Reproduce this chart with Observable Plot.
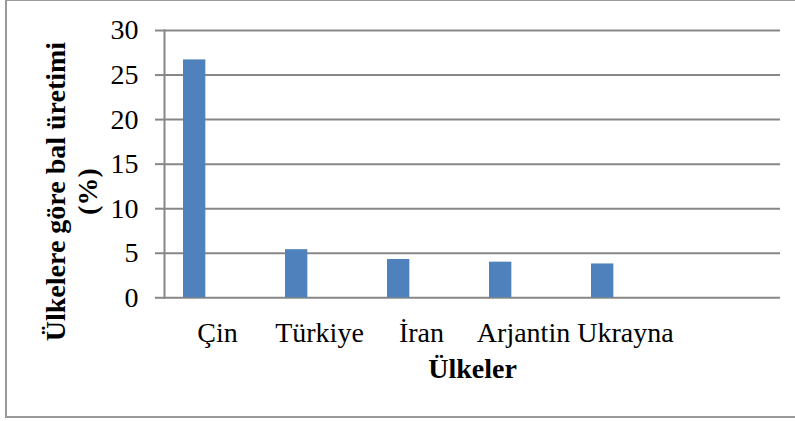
<!DOCTYPE html>
<html><head><meta charset="utf-8">
<script src="https://cdn.jsdelivr.net/npm/d3@7"></script>
<script src="https://cdn.jsdelivr.net/npm/@observablehq/plot@0.6"></script>
<style>
html,body{margin:0;padding:0;background:#fff;}
#wrap{position:relative;width:795px;height:421px;overflow:hidden;}
#border{position:absolute;left:5px;top:-1px;width:810px;height:419px;border:2px solid #9a9a9a;box-sizing:border-box;}
#chart{position:absolute;left:0;top:0;}
</style></head><body>
<div id="wrap"><div id="border"></div><div id="chart"></div></div>
<script>
const countries = ["Çin", "Türkiye", "İran", "Arjantin", "Ukrayna"];
const shares = [26.7, 5.4, 4.3, 4.0, 3.8];
const yTicks = [0, 5, 10, 15, 20, 25, 30];
const xTitle = "Ülkeler";
const yTitle = "Ülkelere göre bal üretimi\n(%)";

const data = countries.map((c, i) => ({country: c, value: shares[i]}));
const domain = [...countries, " "];
const grey = "#878787";

const plot = Plot.plot({
  width: 795, height: 421,
  marginLeft: 164, marginRight: 15, marginTop: 30, marginBottom: 123.7,
  style: {fontFamily: "'Liberation Serif', serif", fontSize: "28px", color: "#000", background: "transparent"},
  x: {domain, padding: 0, label: null},
  y: {domain: [0, 30], label: null},
  marks: [
    Plot.gridY(yTicks, {stroke: grey, strokeOpacity: 1, strokeWidth: 2}),
    Plot.barY(data, {x: "country", y: "value", fill: "#4F81BD", insetLeft: 17, insetRight: 62.67}),
    Plot.axisY(yTicks, {tickSize: 9, tickPadding: 17, stroke: grey, strokeWidth: 2, strokeOpacity: 1, fontSize: 28, fill: "#000", label: null, tickFormat: d => d}),
    Plot.axisX({tickSize: 0, tickPadding: 24.5, fontSize: 28, fill: "#000", label: null}),
    Plot.frame({anchor: "left", stroke: grey, strokeWidth: 2}),
    Plot.text([xTitle], {frameAnchor: "bottom", lineAnchor: "middle", textAnchor: "middle", dy: 71, fontWeight: "bold", fontSize: 28, fill: "#000"}),
    Plot.text([yTitle], {frameAnchor: "left", textAnchor: "middle", lineAnchor: "middle", rotate: -90, dx: -94, dy: 27.4, fontWeight: "bold", fontSize: 28, lineHeight: 1.14, fill: "#000"})
  ]
});
document.getElementById("chart").appendChild(plot);
</script>
</body></html>
